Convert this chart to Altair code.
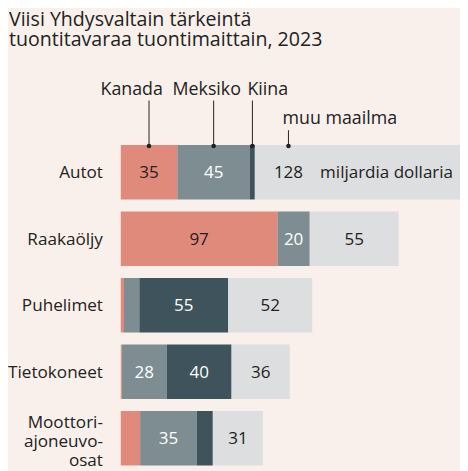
import altair as alt
import pandas as pd

categories = ["Autot", "Raakaöljy", "Puhelimet", "Tietokoneet", "Moottori-\najoneuvo-\nosat"]
origins = ["Kanada", "Meksiko", "Kiina", "muu maailma"]
kanada = [35, 97, 2, 0.6, 12]
meksiko = [45, 20, 9.5, 28, 35]
kiina = [3, 0, 55, 40, 10]
muu = [128, 55, 52, 36, 31]
colors = ["#e08a7c", "#7d8d92", "#3e535b", "#dcdee0"]
title_lines = ["Viisi Yhdysvaltain tärkeintä", "tuontitavaraa tuontimaittain, 2023"]
unit_label = "miljardia dollaria"

rows = []
for i, cat in enumerate(categories):
    for j, (name, vals) in enumerate(zip(origins, [kanada, meksiko, kiina, muu])):
        rows.append({"category": cat, "origin": name, "value": vals[i], "order": j})
df = pd.DataFrame(rows)
cat_df = pd.DataFrame({"category": categories,
                       "lines": [c.count("\n") + 1 for c in categories]})

FONT = "Open Sans"
DARK = "#222222"
BG = "#f9f0eb"
VFS = 17.2

yscale = alt.Scale(domain=categories, paddingInner=0.182, paddingOuter=0)
Y = alt.Y("category:N", scale=yscale, axis=None)
xscale = alt.Scale(domain=[0, 210], nice=False)

base = alt.Chart(df).transform_stack(
    stack="value", as_=["x0", "x1"], groupby=["category"],
    sort=[alt.SortField("order")]
).transform_calculate(mid="(datum.x0 + datum.x1) / 2")

bars = base.mark_bar().encode(
    y=Y,
    x=alt.X("x0:Q", scale=xscale, axis=None),
    x2="x1:Q",
    color=alt.Color("origin:N", scale=alt.Scale(domain=origins, range=colors), legend=None),
)

labels = base.transform_filter(
    "datum.value >= 20 && !(datum.category == 'Autot' && datum.origin == 'muu maailma')"
).mark_text(font=FONT, fontSize=VFS, baseline="middle", dy=1).encode(
    y=Y,
    x=alt.X("mid:Q", scale=xscale),
    text=alt.Text("value:Q"),
    color=alt.condition(alt.FieldOneOfPredicate(field="origin", oneOf=["Meksiko", "Kiina"]),
                        alt.value("white"), alt.value(DARK)),
)

autot_muu = base.transform_filter("datum.category == 'Autot' && datum.origin == 'muu maailma'")

muu_label = autot_muu.mark_text(font=FONT, fontSize=VFS, baseline="middle", dy=1, dx=34, color=DARK).encode(
    y=Y, x=alt.X("x0:Q", scale=xscale), text=alt.Text("value:Q"),
)
unit_text = autot_muu.mark_text(font=FONT, fontSize=VFS, baseline="middle", dy=1, dx=66,
                                align="left", color=DARK).encode(
    y=Y, x=alt.X("x0:Q", scale=xscale), text=alt.value(unit_label),
)

# category labels
cat_single = alt.Chart(cat_df).transform_filter("datum.lines == 1").mark_text(
    font=FONT, fontSize=17.3, align="right", baseline="middle", dy=1, color=DARK
).encode(y=Y, x=alt.value(-18), text="category:N")
cat_multi = alt.Chart(cat_df).transform_filter("datum.lines > 1").mark_text(
    font=FONT, fontSize=17.3, align="right", baseline="middle", dy=-15, lineBreak="\n",
    lineHeight=19, color=DARK
).encode(y=Y, x=alt.value(-18), text="category:N")

layers = [bars, labels, muu_label, unit_text, cat_single, cat_multi]

# annotations for the first bar
ann_cfg = {"Kanada": ("right", 14), "Meksiko": ("center", -7), "Kiina": ("left", -5)}
for name, (al, dx) in ann_cfg.items():
    sub = base.transform_filter(f"datum.category == 'Autot' && datum.origin == '{name}'")
    layers.append(sub.mark_rule(color=DARK, strokeWidth=1).encode(
        x=alt.X("mid:Q", scale=xscale), y=alt.value(-45), y2=alt.value(1)))
    layers.append(sub.mark_point(filled=True, size=22, color=DARK, opacity=1).encode(
        x=alt.X("mid:Q", scale=xscale), y=alt.value(1)))
    layers.append(sub.mark_text(font=FONT, fontSize=18, align=al, dx=dx, baseline="alphabetic",
                                color=DARK).encode(
        x=alt.X("mid:Q", scale=xscale), y=alt.value(-51), text="origin:N"))

layers.append(autot_muu.mark_rule(color=DARK, strokeWidth=1, xOffset=34).encode(
    x=alt.X("x0:Q", scale=xscale), y=alt.value(-15), y2=alt.value(1)))
layers.append(autot_muu.mark_point(filled=True, size=22, color=DARK, opacity=1, xOffset=34).encode(
    x=alt.X("x0:Q", scale=xscale), y=alt.value(1)))
layers.append(autot_muu.mark_text(font=FONT, fontSize=18, align="left", dx=28, baseline="alphabetic",
                                  color=DARK).encode(
    x=alt.X("x0:Q", scale=xscale), y=alt.value(-21), text="origin:N"))

# title lines
for k, line in enumerate(title_lines):
    layers.append(alt.Chart(pd.DataFrame({"t": [line]})).mark_text(
        font=FONT, fontSize=19.8, align="left", baseline="alphabetic", color=DARK
    ).encode(x=alt.value(-113), y=alt.value(-120 + 20 * k), text="t:N"))

chart = alt.layer(*layers).properties(
    width=343, height=324,
    autosize=alt.AutoSizeParams(type="none"),
    padding={"left": 114, "top": 136, "right": 0, "bottom": 4},
    background=BG,
).configure_view(stroke=None)

chart.save("out.html", embed_options={"renderer": "svg", "actions": False})
